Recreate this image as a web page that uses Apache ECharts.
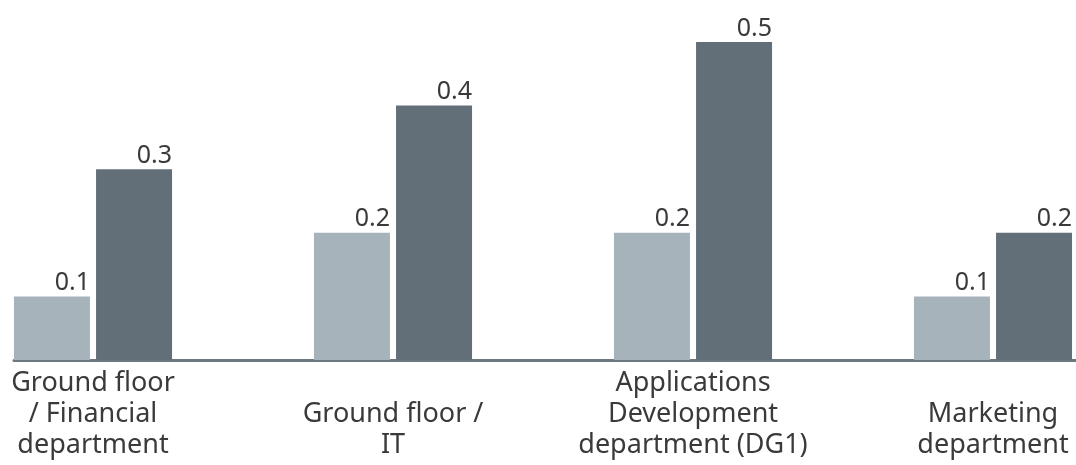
<!DOCTYPE html>
<html><head><meta charset="utf-8">
<script src="https://cdn.jsdelivr.net/npm/echarts@6/dist/echarts.min.js"></script>
<style>html,body{margin:0;padding:0;background:#fff}#c{width:1076px;height:465px}</style>
</head><body><div id="c"></div>
<script>
const categories = ["Ground floor\n/ Financial\ndepartment", "Ground floor /\nIT", "Applications\nDevelopment\ndepartment (DG1)", "Marketing\ndepartment"];
const seriesA = [0.1, 0.2, 0.2, 0.1];
const seriesB = [0.3, 0.4, 0.5, 0.2];
const font = "Noto Sans, DejaVu Sans, sans-serif";
const lbl = {show:true, position:['100%',0], align:'right', verticalAlign:'bottom', offset:[0,-1], fontFamily:font, fontSize:25, lineHeight:25, color:'#3a3a3a', formatter: p => p.value.toFixed(1)};
const chart = echarts.init(document.getElementById('c'), null, {renderer:'canvas'});
chart.setOption({
  animation:false,
  grid:[{left:-57, right:-67, top:42, bottom:105, containLabel:false, outerBoundsMode:'none'},
        {left:14, right:0, top:42, bottom:105, outerBoundsMode:'none'}],
  xAxis:[{type:'category', gridIndex:0, data:categories, axisLine:{show:false}, axisTick:{show:false},
          axisLabel:{interval:0, margin:101, verticalAlign:'bottom', fontFamily:font, fontSize:27, lineHeight:31, color:'#3a3a3a', align:'center', hideOverlap:false}},
         {type:'value', gridIndex:1, min:0, max:1, axisLine:{show:true, lineStyle:{color:'#6b7880', width:3}}, axisTick:{show:false}, axisLabel:{show:false}, splitLine:{show:false}}],
  yAxis:[{type:'value', gridIndex:0, min:0, max:0.5, show:false},
         {type:'value', gridIndex:1, min:0, max:1, show:false}],
  series:[
    {type:'bar', xAxisIndex:0, yAxisIndex:0, data:seriesA, barWidth:76, barGap:'8%', itemStyle:{color:'#a7b3bb'}, label:lbl},
    {type:'bar', xAxisIndex:0, yAxisIndex:0, data:seriesB, barWidth:76, barGap:'8%', itemStyle:{color:'#636f78'}, label:lbl}
  ]
});
</script></body></html>
